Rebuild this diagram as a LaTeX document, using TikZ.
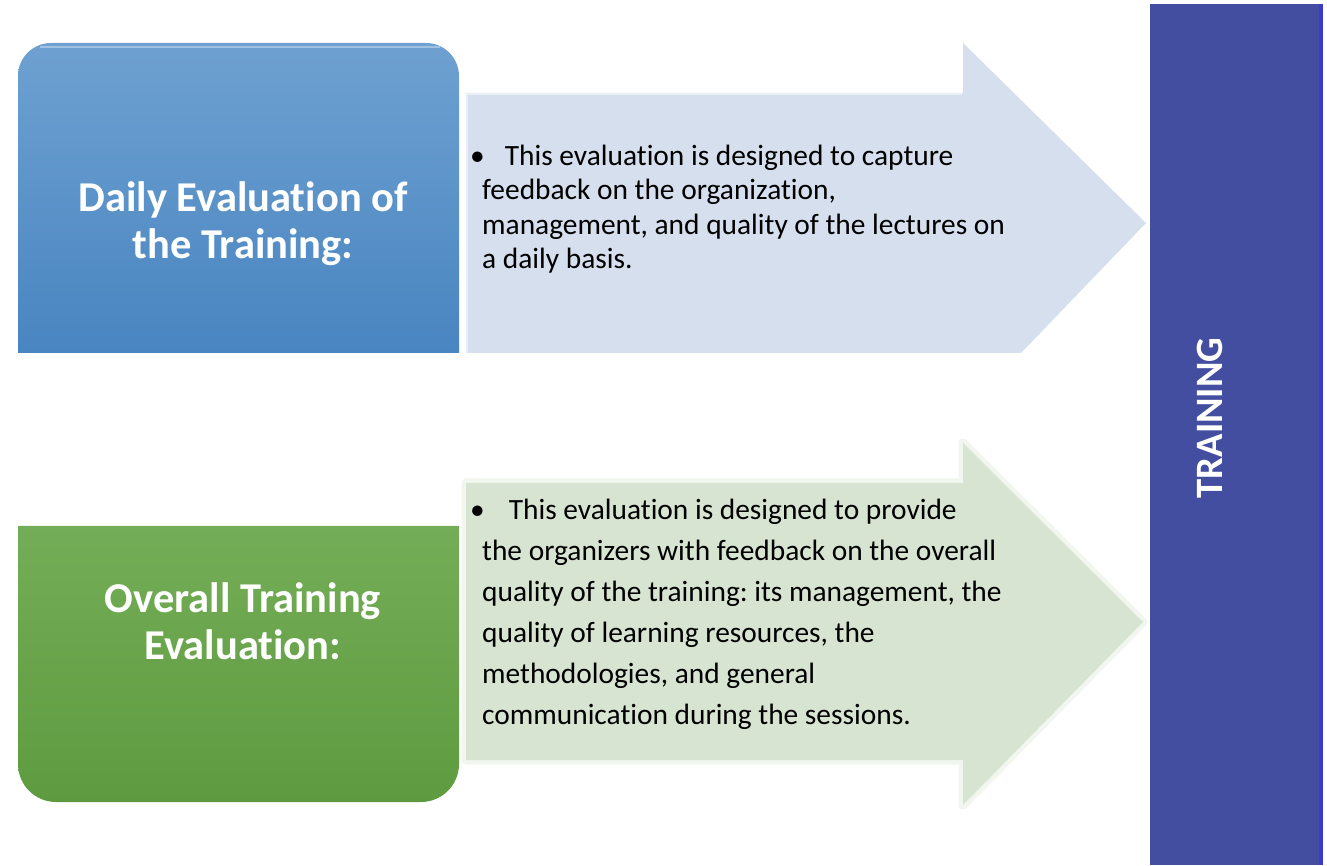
\documentclass[tikz,border=0pt]{standalone}
\usepackage{fontspec}
\setmainfont{Carlito}[Ligatures=NoCommon]
\frenchspacing
\definecolor{blueTop}{RGB}{110,161,209}
\definecolor{blueBot}{RGB}{73,133,193}
\definecolor{greenTop}{RGB}{116,173,87}
\definecolor{greenBot}{RGB}{94,155,64}
\definecolor{blueArrow}{RGB}{213,223,237}
\definecolor{greenArrow}{RGB}{216,228,210}
\definecolor{barFill}{RGB}{68,78,160}
\definecolor{barEdge}{RGB}{60,58,205}
\tikzset{
  x=1pt, y=1pt,
  title/.style={text=white, font=\fontsize{42.5}{47}\selectfont\bfseries, align=center, inner sep=0pt},
  bodytext/.style={text=black, align=left, inner sep=0pt, anchor=west},
}
\begin{document}
\begin{tikzpicture}
\useasboundingbox (0,0) rectangle (1327,865);

% right-hand bar
\fill[barFill] (1150,0) rectangle (1323,861);
\fill[barEdge] (1319,0) rectangle (1323,861);
\node[text=white, font=\fontsize{38.7}{44}\selectfont\bfseries, rotate=90, inner sep=0pt] (bar) at (1210,447) {TRAINING};

% upper row: blue box and light arrow
\shade[top color=blueTop, bottom color=blueBot]
  (18,512) -- (18,789) arc[start angle=180, end angle=90, radius=33]
  -- (426,822) arc[start angle=90, end angle=0, radius=33] -- (459,512) -- cycle;
\draw[white, opacity=0.35, line width=2pt] (40,818) -- (440,818);
\fill[blueArrow] (466,512) -- (466,772) -- (963,772) -- (963,822) -- (1146,642) -- (1021,512) -- cycle;
\draw[white, opacity=0.5, line width=2pt] (467,512) -- (467,771) -- (962,771);
\node[title] (daily) at (243,641) {Daily Evaluation of\\the Training:};
\node[bodytext, font=\fontsize{29.4}{34.5}\selectfont] (dailytext) at (470,656)
  {\textbullet\hspace{20pt}This evaluation is designed to capture\\
   \hspace*{12pt}feedback on the organization,\\
   \hspace*{12pt}management, and quality of the lectures on\\
   \hspace*{12pt}a daily basis.};

% lower row: green box and light arrow with a soft rim
\shade[top color=greenTop, bottom color=greenBot]
  (18,339) -- (459,339) -- (459,101) arc[start angle=0, end angle=-90, radius=38]
  -- (56,63) arc[start angle=270, end angle=180, radius=38] -- cycle;
\draw[greenArrow, line width=9pt, opacity=0.35, line join=round]
  (466,105) -- (466,382) -- (963,382) -- (963,422) -- (1143,243) -- (963,60) -- (963,105) -- cycle;
\fill[greenArrow] (466,105) -- (466,382) -- (963,382) -- (963,422) -- (1143,243) -- (963,60) -- (963,105) -- cycle;
\node[title] (overall) at (243,244) {Overall Training\\Evaluation:};
\node[bodytext, font=\fontsize{29.4}{41}\selectfont] (overalltext) at (470,251)
  {\textbullet\hspace{24pt}This evaluation is designed to provide\\
   \hspace*{12pt}the organizers with feedback on the overall\\
   \hspace*{12pt}quality of the training: its management, the\\
   \hspace*{12pt}quality of learning resources, the\\
   \hspace*{12pt}methodologies, and general\\
   \hspace*{12pt}communication during the sessions.};
\end{tikzpicture}
\end{document}
